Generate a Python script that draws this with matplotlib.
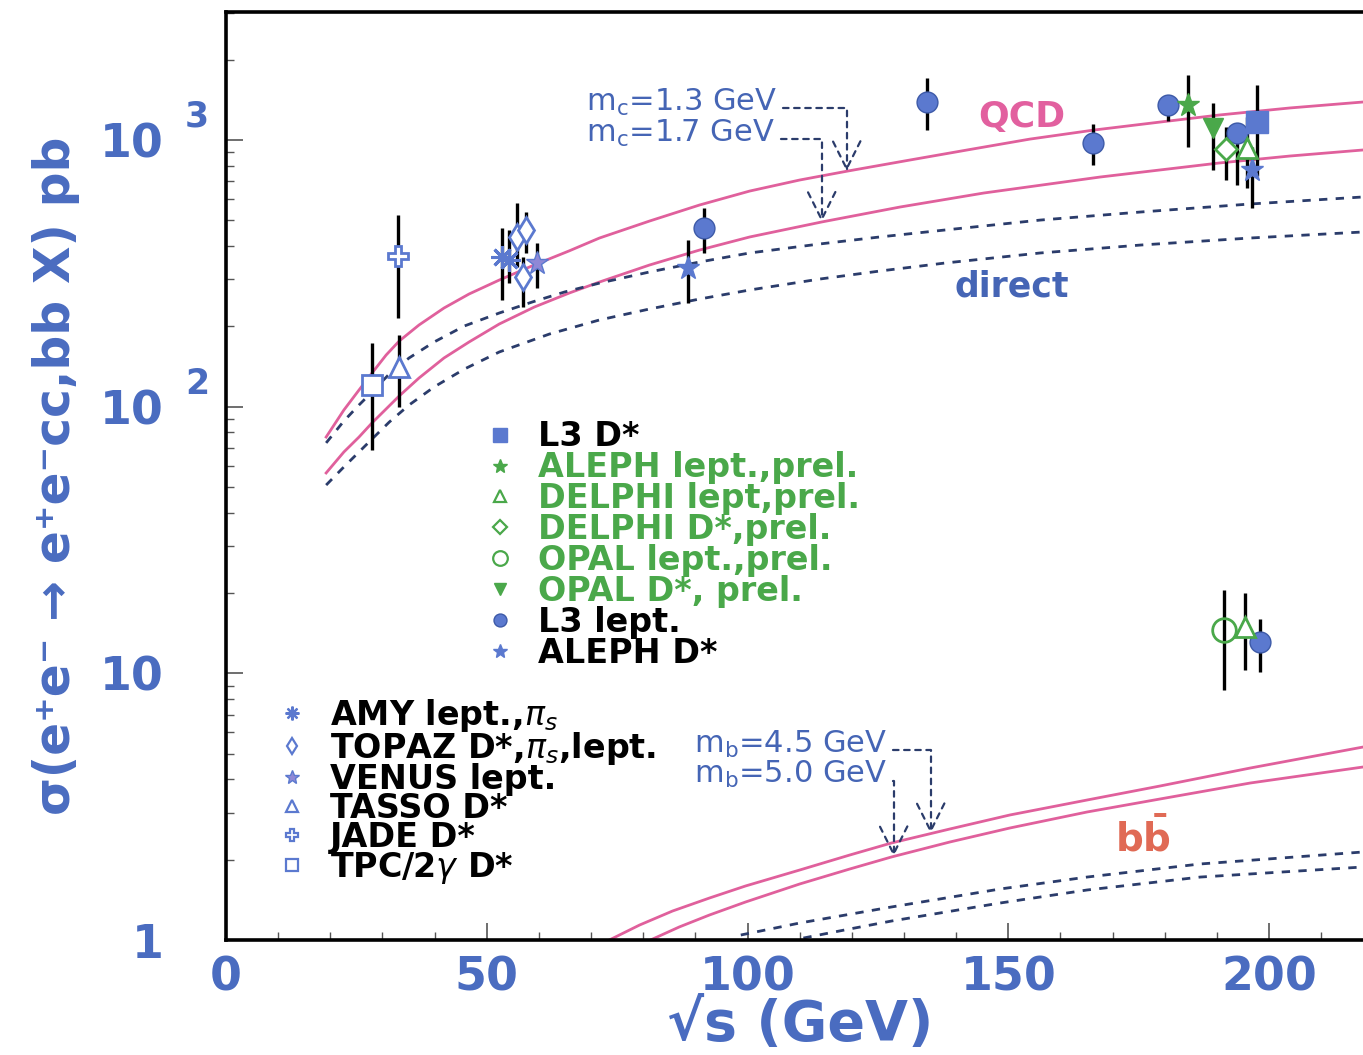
import numpy as np
import matplotlib
matplotlib.use('Agg')
import matplotlib.pyplot as plt
from matplotlib.lines import Line2D

plt.rcParams['font.family'] = ['DejaVu Sans']
plt.rcParams['mathtext.fontset'] = 'dejavusans'

# ---------------- theory curves ----------------
qcd13_x = [19.2, 22.6, 25.5, 28.0, 30.7, 33.2, 37.0, 41.8, 46.6, 52.4, 59.1, 65.8, 71.6, 81.2,
           90.8, 100.4, 110.0, 119.2, 131.1, 142.6, 154.1, 166.4, 179.1, 190.4, 204.0, 217.9]
qcd13_y = [76.9, 97.1, 115.4, 133.7, 156.1, 176.1, 202.3, 234.3, 264.4, 298.3, 339.8, 383.7, 428.7, 496.4,
           570.2, 643.1, 707.5, 764.4, 840.6, 920.5, 1007, 1089, 1167, 1240, 1318, 1387]
qcd17_x = [19.2, 22.6, 25.5, 28.0, 30.7, 33.2, 37.0, 41.8, 46.6, 52.4, 59.1, 65.8, 71.6, 81.2,
           90.8, 100.4, 114.2, 129.2, 145.3, 167.6, 190.4, 204.0, 217.9]
qcd17_y = [56.4, 67.6, 76.9, 86.9, 98.0, 109.6, 128.0, 152.2, 174.7, 204.1, 236.2, 266.6, 293.2, 339.6,
           386.5, 432.6, 492.4, 560.2, 632.4, 726.0, 819.4, 870.4, 916.6]
dir13_x = [19.2, 22.6, 25.5, 28.0, 31.3, 35.1, 39.9, 45.7, 52.4, 58.7, 64.9, 71.6, 81.2, 90.8,
           100.4, 113.8, 125.3, 137.8, 156.1, 175.4, 196.3, 217.9]
dir13_y = [73.1, 88.3, 101.4, 113.5, 132.5, 152.2, 174.7, 200.6, 224.4, 246.7, 269.0, 290.5, 319.8, 348.6,
           376.8, 407.2, 432.6, 459.4, 500.6, 536.8, 575.0, 611.0]
dir17_x = [19.2, 22.6, 25.5, 28.0, 31.3, 35.1, 39.9, 45.7, 52.4, 62.0, 71.6, 81.2, 90.8, 100.4,
           113.8, 125.3, 137.8, 156.1, 175.4, 196.3, 217.9]
dir17_y = [50.8, 59.4, 67.6, 75.6, 87.5, 101.4, 118.5, 138.3, 160.3, 187.1, 211.3, 232.3, 253.2, 273.7,
           300.8, 322.3, 345.4, 376.8, 403.6, 428.7, 451.6]

bb45_x = [73.5, 79.3, 85.6, 92.7, 99.6, 110.0, 119.6, 127.6, 138.8, 150.3, 165.1, 179.1, 196.4, 218.0]
bb45_y = [1.0, 1.138, 1.284, 1.437, 1.594, 1.830, 2.083, 2.311, 2.608, 2.943, 3.349, 3.780, 4.415, 5.291]
bb50_x = [81.4, 86.9, 92.7, 99.6, 110.0, 119.6, 127.6, 138.8, 150.3, 165.1, 179.1, 196.4, 218.0]
bb50_y = [1.0, 1.119, 1.241, 1.388, 1.622, 1.846, 2.048, 2.331, 2.630, 3.020, 3.379, 3.879, 4.453]
bbdir45_x = [98.7, 110.0, 127.6, 148.4, 165.1, 186.8, 218.0]
bbdir45_y = [1.044, 1.158, 1.330, 1.553, 1.722, 1.928, 2.138]
bbdir50_x = [110.7, 119.6, 127.6, 148.4, 165.1, 186.8, 218.0]
bbdir50_y = [1.017, 1.100, 1.178, 1.376, 1.540, 1.722, 1.878]

# ---------------- measurements: x, y, lower, upper ----------------
L3_Dstar_x = [197.7]; L3_Dstar_y = [1167]; L3_Dstar_lo = [730]; L3_Dstar_hi = [1600]
ALEPH_lept_x = [184.5]; ALEPH_lept_y = [1352]; ALEPH_lept_lo = [941]; ALEPH_lept_hi = [1751]
DELPHI_lept_x = [195.8, 195.4]; DELPHI_lept_y = [933, 14.9]; DELPHI_lept_lo = [660, 10.3]; DELPHI_lept_hi = [1219, 20.0]
DELPHI_Dstar_x = [191.7]; DELPHI_Dstar_y = [925]; DELPHI_Dstar_lo = [707]; DELPHI_Dstar_hi = [1117]
OPAL_lept_x = [191.4]; OPAL_lept_y = [14.5]; OPAL_lept_lo = [8.66]; OPAL_lept_hi = [20.5]
OPAL_Dstar_x = [189.3]; OPAL_Dstar_y = [1109]; OPAL_Dstar_lo = [771]; OPAL_Dstar_hi = [1375]
L3_lept_x = [91.7, 134.5, 166.2, 180.6, 193.9, 198.3]
L3_lept_y = [467, 1387, 973, 1352, 1062, 13.1]
L3_lept_lo = [377, 1089, 802, 1177, 678, 10.1]
L3_lept_hi = [556, 1707, 1147, 1473, 1157, 16.0]
ALEPH_Dstar_x = [88.5, 196.7]; ALEPH_Dstar_y = [331, 771]; ALEPH_Dstar_lo = [245, 556]; ALEPH_Dstar_hi = [421, 940]

AMY_x = [53.0, 54.3]; AMY_y = [364, 355]; AMY_lo = [251, 290]; AMY_hi = [467, 459]
TOPAZ_x = [55.7, 57.6, 56.9]; TOPAZ_y = [433, 459, 306]; TOPAZ_lo = [334, 377, 236]; TOPAZ_hi = [580, 537, 364]
VENUS_x = [59.7]; VENUS_y = [345]; VENUS_lo = [278]; VENUS_hi = [411]
TASSO_x = [33.1]; TASSO_y = [141]; TASSO_lo = [100]; TASSO_hi = [185]
JADE_x = [33.0]; JADE_y = [367]; JADE_lo = [215]; JADE_hi = [523]
TPC_x = [28.0]; TPC_y = [121]; TPC_lo = [69]; TPC_hi = [173]

legend1_labels = ['L3 D*', 'ALEPH lept.,prel.', 'DELPHI lept,prel.', 'DELPHI D*,prel.',
                  'OPAL lept.,prel.', 'OPAL D*, prel.', 'L3 lept.', 'ALEPH D*']
legend2_labels = [r'AMY lept.,$\pi_s$', r'TOPAZ D*,$\pi_s$,lept.', 'VENUS lept.',
                  'TASSO D*', 'JADE D*', r'TPC/2$\gamma$ D*']

xticks = [0, 50, 100, 150, 200]
yticks = [1, 10, 100, 1000]
ytick_labels = ['1', '10', '10', '10']
ytick_sups = ['', '', '2', '3']

# ---------------- styles ----------------
BLUE = '#5b79cf'
BLUE_E = '#3d5aa8'
GREEN = '#4aa84a'
PINK = '#e0609c'
NAVY = '#2b3c6b'
TXTBLUE = '#4565b5'
AXBLUE = '#4a6cc0'

fig = plt.figure(figsize=(13.63, 10.55), dpi=100)
ax = fig.add_axes([226/1363, 115/1055, 1 - 226/1363, 928/1055])
ax.set_yscale('log')
ax.set_xlim(0, 218.0)
ax.set_ylim(1, 3018)

# curves
for cx, cy in [(qcd13_x, qcd13_y), (qcd17_x, qcd17_y), (bb45_x, bb45_y), (bb50_x, bb50_y)]:
    ax.plot(cx, cy, color=PINK, lw=2.0, zorder=2, solid_joinstyle='round')
for cx, cy in [(dir13_x, dir13_y), (dir17_x, dir17_y), (bbdir45_x, bbdir45_y), (bbdir50_x, bbdir50_y)]:
    ax.plot(cx, cy, color=NAVY, lw=2.0, ls=(0, (3, 3)), zorder=2)

def series(x, y, lo, hi, **mk):
    x = np.asarray(x, float); y = np.asarray(y, float)
    lo = np.asarray(lo, float); hi = np.asarray(hi, float)
    ax.errorbar(x, y, yerr=[y - lo, hi - y], fmt='none', ecolor='black', elinewidth=2.4, capsize=0, zorder=3)
    ax.plot(x, y, ls='none', zorder=4, **mk)

s_L3D = dict(marker='s', ms=16, mfc=BLUE, mec=BLUE, mew=1)
s_ALl = dict(marker='*', ms=17, mfc=GREEN, mec=GREEN, mew=1)
s_DEl = dict(marker='^', ms=15, mfc='white', mec=GREEN, mew=2)
s_DED = dict(marker='D', ms=11, mfc='white', mec=GREEN, mew=2)
s_OPl = dict(marker='o', ms=17, mfc='none', mec=GREEN, mew=2)
s_OPD = dict(marker='v', ms=15, mfc=GREEN, mec=GREEN, mew=1)
s_L3l = dict(marker='o', ms=15, mfc=BLUE, mec=BLUE_E, mew=1)
s_ALD = dict(marker='*', ms=17, mfc=BLUE, mec=BLUE, mew=1)
s_AMY = dict(marker=(8, 2, 0), ms=16, mfc=BLUE, mec=BLUE, mew=2.2)
s_TOP = dict(marker='d', ms=13, mfc='white', mec=BLUE, mew=2)
s_VEN = dict(marker='*', ms=17, mfc='#8f88d6', mec=BLUE, mew=1)
s_TAS = dict(marker='^', ms=15, mfc='white', mec=BLUE, mew=2)
s_JAD = dict(marker='P', ms=15, mfc='white', mec=BLUE, mew=2)
s_TPC = dict(marker='s', ms=15, mfc='white', mec=BLUE, mew=2)

series(TPC_x, TPC_y, TPC_lo, TPC_hi, **s_TPC)
series(TASSO_x, TASSO_y, TASSO_lo, TASSO_hi, **s_TAS)
series(JADE_x, JADE_y, JADE_lo, JADE_hi, **s_JAD)
series(AMY_x, AMY_y, AMY_lo, AMY_hi, **s_AMY)
series(TOPAZ_x, TOPAZ_y, TOPAZ_lo, TOPAZ_hi, **s_TOP)
series(VENUS_x, VENUS_y, VENUS_lo, VENUS_hi, **s_VEN)
series(ALEPH_Dstar_x, ALEPH_Dstar_y, ALEPH_Dstar_lo, ALEPH_Dstar_hi, **s_ALD)
series(L3_lept_x, L3_lept_y, L3_lept_lo, L3_lept_hi, **s_L3l)
series(ALEPH_lept_x, ALEPH_lept_y, ALEPH_lept_lo, ALEPH_lept_hi, **s_ALl)
series(OPAL_Dstar_x, OPAL_Dstar_y, OPAL_Dstar_lo, OPAL_Dstar_hi, **s_OPD)
series(DELPHI_Dstar_x, DELPHI_Dstar_y, DELPHI_Dstar_lo, DELPHI_Dstar_hi, **s_DED)
series(DELPHI_lept_x, DELPHI_lept_y, DELPHI_lept_lo, DELPHI_lept_hi, **s_DEl)
series(OPAL_lept_x, OPAL_lept_y, OPAL_lept_lo, OPAL_lept_hi, **s_OPl)
series(L3_Dstar_x, L3_Dstar_y, L3_Dstar_lo, L3_Dstar_hi, **s_L3D)

# ---------------- legends ----------------
def proxy(st, scale=0.62):
    d = dict(st)
    d['ms'] = d['ms'] * scale
    d['mew'] = min(d.get('mew', 1), 1.6)
    return Line2D([], [], ls='none', **d)

LEGFONT = dict(size=24, weight='bold', family='DejaVu Sans')
h1 = [proxy(s) for s in [s_L3D, s_ALl, s_DEl, s_DED, s_OPl, s_OPD, s_L3l, s_ALD]]
c1 = ['black', GREEN, GREEN, GREEN, GREEN, GREEN, 'black', 'black']
leg1 = ax.legend(h1, legend1_labels, loc='upper left', bbox_to_anchor=(0.228, 0.560),
                 frameon=False, prop=LEGFONT, labelcolor=c1,
                 handlelength=0.9, handletextpad=0.69, labelspacing=-0.063, borderpad=0,
                 borderaxespad=0)
ax.add_artist(leg1)

h2 = [proxy(s) for s in [s_AMY, s_TOP, s_VEN, s_TAS, s_JAD, s_TPC]]
leg2 = ax.legend(h2, legend2_labels, loc='upper left', bbox_to_anchor=(0.045, 0.262),
                 frameon=False, prop=LEGFONT, labelcolor='black',
                 handlelength=0.9, handletextpad=0.69, labelspacing=-0.12, borderpad=0,
                 borderaxespad=0)

# ---------------- text labels ----------------
ax.text(152.6, 1219, 'QCD', color='#e2609f', fontsize=26, fontweight='bold', ha='center', va='center')
ax.text(150.7, 281, 'direct', color=TXTBLUE, fontsize=25, fontweight='bold', ha='center', va='center')
ax.text(175.8, 2.41, r'$\mathbf{b\bar{b}}$', color='#e06a55', fontsize=28, ha='center', va='center')

def mass_note(text, tx, ty, ax_x, cx, cy):
    ty_curve = float(np.interp(ax_x, cx, cy))
    ax.annotate(text, xy=(ax_x, ty_curve), xytext=(tx, ty), textcoords='data',
                color=TXTBLUE, fontsize=22, ha='left', va='center',
                arrowprops=dict(arrowstyle='->,head_length=0.9,head_width=0.45', ls=(0, (2.5, 2.5)),
                                color=NAVY, lw=1.6, relpos=(1.0, 0.3),
                                connectionstyle='angle,angleA=0,angleB=90,rad=0',
                                shrinkA=2, shrinkB=0))

mass_note(r'm$_\mathrm{c}$=1.3 GeV', 69.1, 1387, 119.0, qcd13_x, qcd13_y)
mass_note(r'm$_\mathrm{c}$=1.7 GeV', 69.1, 1062, 114.2, qcd17_x, qcd17_y)
mass_note(r'm$_\mathrm{b}$=4.5 GeV', 89.8, 5.43, 135.1, bb45_x, bb45_y)
mass_note(r'm$_\mathrm{b}$=5.0 GeV', 89.8, 4.16, 128.0, bb50_x, bb50_y)

# ---------------- axes styling ----------------
for side in ['left', 'bottom', 'top']:
    ax.spines[side].set_linewidth(2.6)
ax.spines['right'].set_visible(False)

ax.set_xticks(xticks)
ax.set_xticks(np.arange(0, 220, 10), minor=True)
ax.set_xticklabels([str(t) for t in xticks])
ax.set_yticks(yticks)
ax.set_yticklabels(ytick_labels)
ax.tick_params(axis='both', which='major', direction='in', length=12, width=1.2, colors='#555555',
               labelcolor=AXBLUE, labelsize=33)
ax.tick_params(axis='both', which='minor', direction='in', length=6, width=1.0, colors='#555555')
ax.tick_params(axis='y', which='both', left=True, right=False)
ax.tick_params(axis='x', which='both', top=False, pad=11)
ax.tick_params(axis='y', which='major', pad=45)
for lab in ax.get_xticklabels() + ax.get_yticklabels():
    lab.set_fontweight('bold')

for t, s in zip(yticks, ytick_sups):
    if s:
        ax.annotate(s, xy=(0, t), xycoords=('axes fraction', 'data'), xytext=(-29, 23),
                    textcoords='offset pixels', ha='center', va='center', color=AXBLUE,
                    fontsize=25, fontweight='bold')

ax.set_xlabel('√s (GeV)', fontsize=40, fontweight='bold', color=AXBLUE)
ax.xaxis.set_label_coords(0.505, -0.063)
ax.xaxis.label.set_va('top')
ax.set_ylabel('σ(e⁺e⁻ → e⁺e⁻cc,bb X) pb', fontsize=35, fontweight='bold', color=AXBLUE)
ax.yaxis.set_label_coords(-0.128, 0.5)

fig.savefig('out.png', dpi=100, facecolor='white')
